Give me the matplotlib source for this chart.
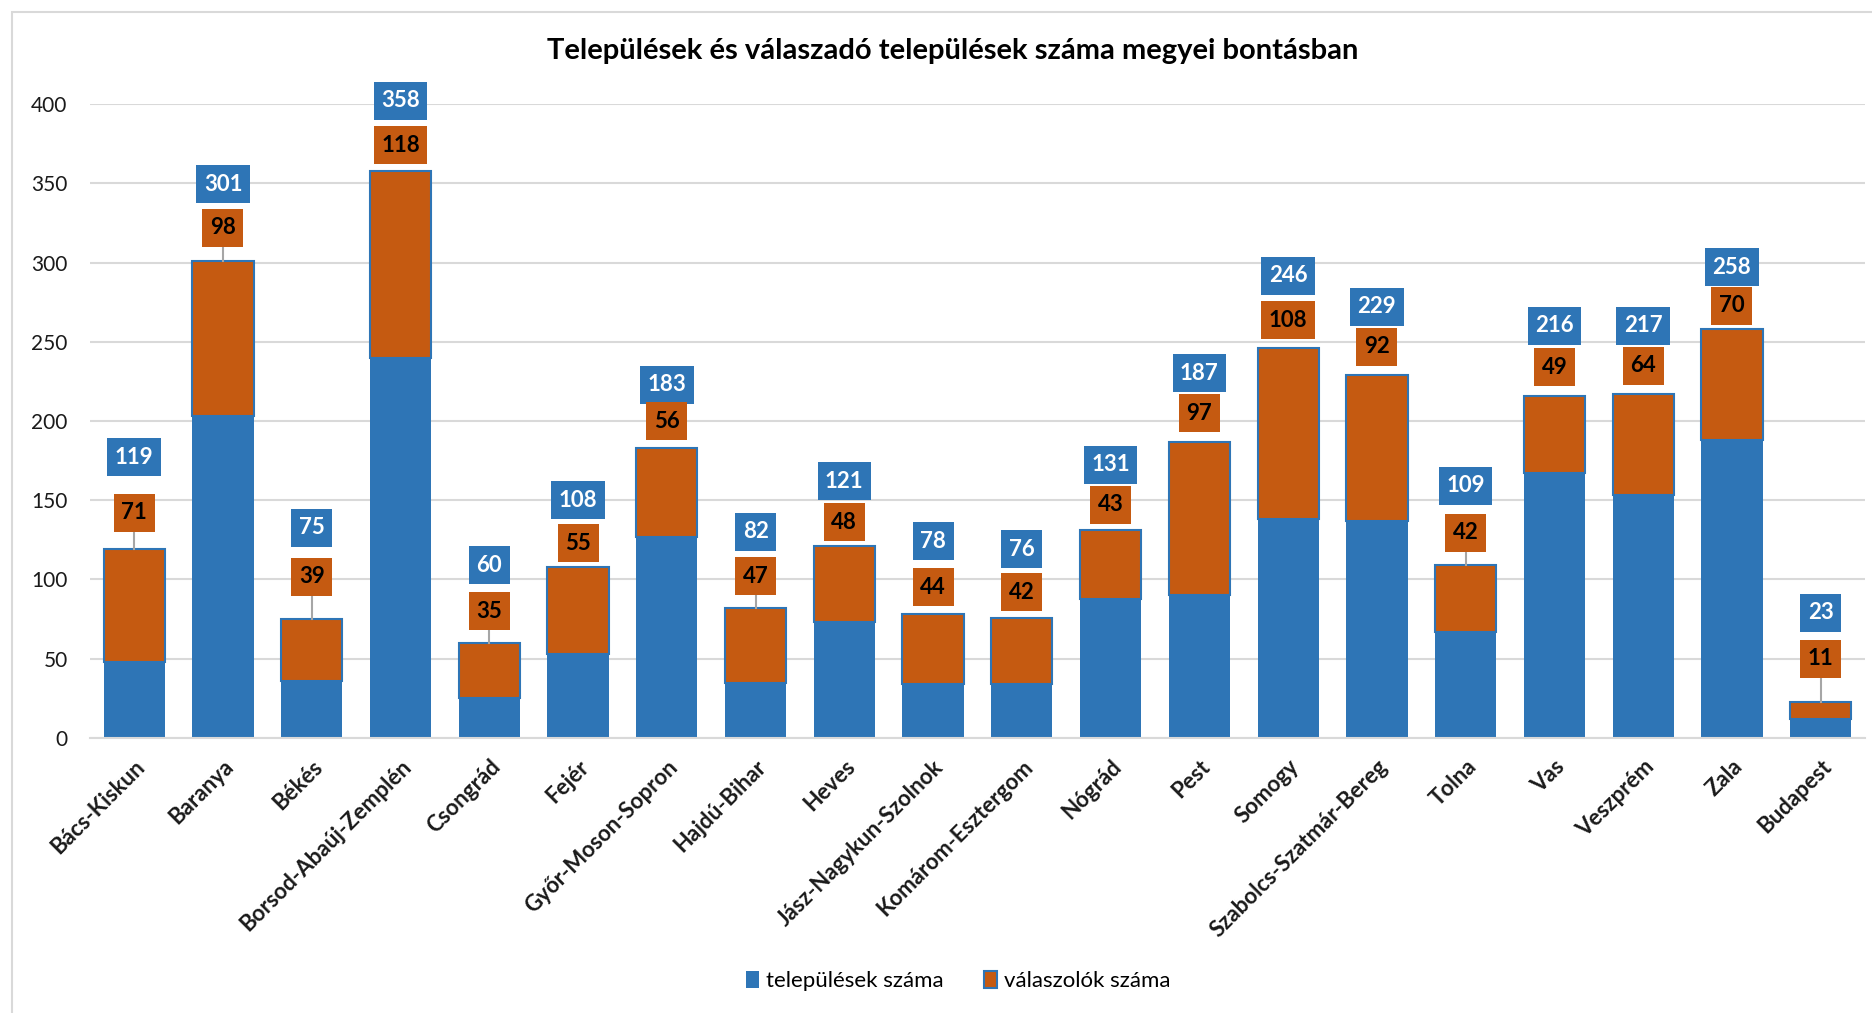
import numpy as np
import matplotlib.pyplot as plt
from matplotlib.patches import Rectangle
from matplotlib.transforms import ScaledTranslation

megyek = ['Bács-Kiskun', 'Baranya', 'Békés', 'Borsod-Abaúj-Zemplén', 'Csongrád', 'Fejér',
          'Győr-Moson-Sopron', 'Hajdú-Bihar', 'Heves', 'Jász-Nagykun-Szolnok',
          'Komárom-Esztergom', 'Nógrád', 'Pest', 'Somogy', 'Szabolcs-Szatmár-Bereg',
          'Tolna', 'Vas', 'Veszprém', 'Zala', 'Budapest']
telepulesek = [119, 301, 75, 358, 60, 108, 183, 82, 121, 78, 76, 131, 187, 246, 229, 109, 216, 217, 258, 23]
valaszolok = [71, 98, 39, 118, 35, 55, 56, 47, 48, 44, 42, 43, 97, 108, 92, 42, 49, 64, 70, 11]

# hand-placed label heights from the original chart (data units)
kek_cimke_y = [177, 349.5, 132.6, 402, 109, 150, 223, 130, 162, 124, 119, 172.5, 230, 291.5, 272, 159, 260, 260, 297, 79]
narancs_cimke_y = [142, 322, 101.7, 374, 80, 123, 200, 102, 136, 95, 92, 147, 205, 263.7, 247, 129.6, 234, 235, 272.7, 50]

KEK = '#2E75B6'
NARANCS = '#C55A11'

plt.rcParams['font.family'] = ['Lato', 'DejaVu Sans']

fig = plt.figure(figsize=(18.72, 10.13), dpi=100)
ax = fig.add_axes([0.048, 0.2715, 0.9483, 0.6258])

x = np.arange(len(megyek))
tel = np.array(telepulesek)
val = np.array(valaszolok)
also = tel - val

ax.bar(x, also, width=0.69, color=KEK, zorder=2)
ax.bar(x, val, bottom=also, width=0.69, color=NARANCS, edgecolor=KEK, linewidth=1.5, zorder=2)

ax.set_xlim(-0.5, len(megyek) - 0.5)
ax.set_ylim(0, 400)
ax.set_yticks(np.arange(0, 401, 50))
ax.grid(axis='y', color='#D9D9D9', linewidth=1.5, zorder=0)
for s in ['top', 'right', 'left']:
    ax.spines[s].set_visible(False)
ax.spines['bottom'].set_color('#D9D9D9')
ax.spines['bottom'].set_linewidth(1.5)
ax.tick_params(axis='y', length=0, pad=16, labelsize=15, labelcolor='#1a1a1a')
ax.tick_params(axis='x', length=0, pad=13)
ax.set_xticks(x)
ax.set_xticklabels(megyek, rotation=45, ha='right', rotation_mode='anchor',
                   fontsize=16, fontweight='bold', color='#1a1a1a')


def cimke(xi, yi, szoveg, hatter, betu):
    # fixed-size label box (inches) centred on the data point
    w = (len(szoveg) * 12.5 + 16) / 100
    h = 0.38
    tr = fig.dpi_scale_trans + ScaledTranslation(xi, yi, ax.transData)
    ax.add_patch(Rectangle((-w / 2, -h / 2), w, h, transform=tr, facecolor=hatter,
                           edgecolor='none', zorder=5, clip_on=False))
    ax.text(xi, yi, szoveg, ha='center', va='center', fontsize=16, fontweight='bold',
            color=betu, zorder=6, clip_on=False)


for i in range(len(megyek)):
    cimke(x[i], kek_cimke_y[i], str(telepulesek[i]), KEK, 'white')
    cimke(x[i], narancs_cimke_y[i], str(valaszolok[i]), NARANCS, 'black')
    # leader line if the label floats clearly above the bar
    also_el = narancs_cimke_y[i] - 12
    if also_el - telepulesek[i] > 7:
        ax.plot([x[i], x[i]], [telepulesek[i], also_el], color='#A6A6A6', linewidth=1.5, zorder=4)

fig.text(953 / 1872, 1 - 51 / 1013, 'Települések és válaszadó települések száma megyei bontásban',
         ha='center', va='center', fontsize=21, fontweight='bold', color='black')

h1 = Rectangle((0, 0), 1, 1, facecolor=KEK, edgecolor='none')
h2 = Rectangle((0, 0), 1, 1, facecolor=NARANCS, edgecolor=KEK, linewidth=1.5)
fig.legend([h1, h2], ['települések száma', 'válaszolók száma'], loc='center',
           bbox_to_anchor=(958 / 1872, 1 - 981 / 1013), ncol=2, frameon=False,
           fontsize=16, handlelength=0.6, handleheight=0.8, handletextpad=0.3,
           columnspacing=1.8)

fig.patches.append(Rectangle((12 / 1872, -0.05), 2, 1.05 - 12 / 1013, transform=fig.transFigure,
                             facecolor='none', edgecolor='#D9D9D9', linewidth=1.5))

fig.savefig('out.png', dpi=100)
